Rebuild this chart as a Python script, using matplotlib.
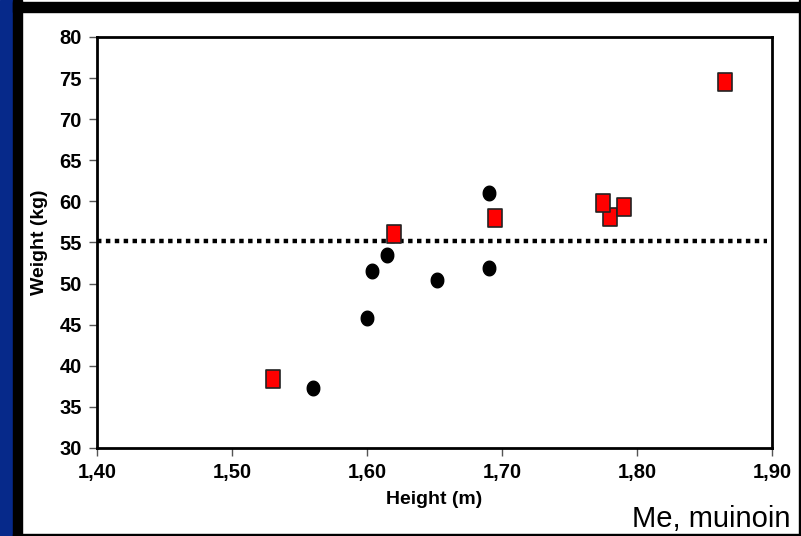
import matplotlib
matplotlib.use('Agg')
import matplotlib.pyplot as plt
from matplotlib.path import Path
from matplotlib.patches import Rectangle
from matplotlib.ticker import FuncFormatter
import numpy as np

# data
circle_height = [1.560, 1.600, 1.604, 1.615, 1.652, 1.690, 1.690]
circle_weight = [37.3, 45.8, 51.5, 53.5, 50.4, 61.0, 51.9]

square_height = [1.530, 1.620, 1.695, 1.780, 1.775, 1.790, 1.865]
square_weight = [38.4, 56.0, 58.0, 58.1, 59.8, 59.3, 74.5]

mean_weight = 55.2

x_ticks = [1.40, 1.50, 1.60, 1.70, 1.80, 1.90]
y_ticks = [30, 35, 40, 45, 50, 55, 60, 65, 70, 75, 80]

plt.rcParams['font.family'] = ['Liberation Sans', 'DejaVu Sans']

# slightly tall markers, like in the original
t = np.linspace(0, 2 * np.pi, 40)
ellipse = Path(np.column_stack([0.86 * np.cos(t), np.sin(t)]))
rect = Path([(-0.83, -1), (0.83, -1), (0.83, 1), (-0.83, 1), (-0.83, -1)],
            [Path.MOVETO, Path.LINETO, Path.LINETO, Path.LINETO, Path.CLOSEPOLY])

fig = plt.figure(figsize=(8.01, 5.36), dpi=100)

# frame around the slide
fig.patches.append(Rectangle((0, 0), 13 / 801, 1, transform=fig.transFigure,
                             color='#06298a', zorder=0))
fig.patches.append(Rectangle((13 / 801, 0), 9 / 801, 1, transform=fig.transFigure,
                             color='black', zorder=0))
fig.patches.append(Rectangle((13 / 801, 1 - 12 / 536), 1, 10 / 536, transform=fig.transFigure,
                             color='black', zorder=0))
fig.patches.append(Rectangle((1 - 2 / 801, 0), 2 / 801, 1, transform=fig.transFigure,
                             color='black', zorder=0))
fig.patches.append(Rectangle((13 / 801, 0), 1, 2 / 536, transform=fig.transFigure,
                             color='black', zorder=0))

ax = fig.add_axes([97 / 801, 1 - 448 / 536, 675 / 801, 411 / 536])

ax.plot([1.40, 1.896], [mean_weight, mean_weight], color='black',
        linestyle=(0, (1, 1)), linewidth=3.2, zorder=1)

ax.plot(circle_height, circle_weight, linestyle='none', marker=ellipse,
        markersize=10.5, color='black', zorder=2)
ax.plot(square_height, square_weight, linestyle='none', marker=rect,
        markersize=13, markerfacecolor='#ff0000', markeredgecolor='#222222',
        markeredgewidth=1.2, zorder=3)

ax.set_xlim(1.40, 1.90)
ax.set_ylim(30, 80)
ax.set_xticks(x_ticks)
ax.set_yticks(y_ticks)
ax.xaxis.set_major_formatter(FuncFormatter(lambda v, p: f'{v:.2f}'.replace('.', ',')))
ax.yaxis.set_major_formatter(FuncFormatter(lambda v, p: f'{v:.0f}'))

for side in ['left', 'bottom', 'right', 'top']:
    ax.spines[side].set_linewidth(2)
ax.tick_params(direction='out', length=6, width=1, color='#555555',
               labelsize=14.5, pad=5)
for lab in ax.get_xticklabels() + ax.get_yticklabels():
    lab.set_fontweight('bold')

ax.set_xlabel('Height (m)', fontsize=14, fontweight='bold', labelpad=6)
ax.set_ylabel('Weight (kg)', fontsize=14, fontweight='bold', labelpad=8)

fig.text(790 / 801, 1 - 527 / 536, 'Me, muinoin', fontsize=21,
         ha='right', va='baseline')

plt.savefig('out.png', dpi=100)
